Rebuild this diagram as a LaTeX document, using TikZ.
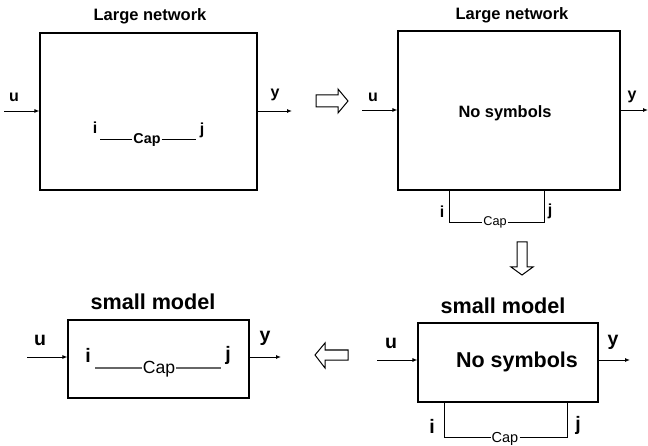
\documentclass[tikz,border=0pt]{standalone}
\usepackage{fontspec}
\setmainfont{Liberation Sans}
\usetikzlibrary{arrows.meta}
\begin{document}
\begin{tikzpicture}[x=1pt,y=-1pt,
  blk/.style={draw,line width=1.2pt,inner sep=0pt},
  lbl/.style={inner sep=0pt,font=\bfseries\fontsize{#1}{#1}\selectfont},
  caplbl/.style={inner sep=1pt,anchor=base,font=\fontsize{#1}{#1}\selectfont},
  sig/.style={line width=0.9pt,-{Latex[length=5pt,width=4pt]}},
  wire/.style={line width=0.8pt},
  gwire/.style={line width=1.8pt,draw=black!60},
  hollow/.style={draw,line width=1pt,fill=white,line join=miter}
]
\useasboundingbox (0,0) rectangle (648,446);

% ---------- Box 1: Large network (top left)
\node[blk,minimum width=217pt,minimum height=157pt] (b1) at (148.5,111.5) {};
\node[lbl=16.5] (t1) at (150,16) {Large network};
\coordinate (u1s) at (4,111);
\draw[sig] (u1s) -- (u1s -| b1.west);
\node[lbl=16] (u1) at (14,97) {u};
\coordinate (y1s) at (b1.east |- 0,111);
\coordinate (y1e) at (292,111);
\draw[sig] (y1s) -- (y1e);
\node[lbl=16] (y1) at (275,95) {y};
\node[lbl=16] (i1) at (95,128) {i};
\node[lbl=16] (j1) at (202,130) {j};
\node[caplbl=14.3,font=\bfseries\fontsize{14.3}{14.3}\selectfont] (c1) at (147,143.5) {Cap};
\coordinate (c1a) at (100,139);
\coordinate (c1b) at (196,139);
\draw[wire] (c1a) -- (c1a -| c1.west);
\draw[wire] (c1a -| c1.east) -- (c1b);

% ---------- hollow arrow right
\draw[hollow] (316,95) -- (338,95) -- (338,89) -- (348,101) -- (338,113) -- (338,107) -- (316,107) -- cycle;

% ---------- Box 2: Large network (top right)
\node[blk,minimum width=222pt,minimum height=159pt] (b2) at (509,110.5) {};
\node[lbl=16.5] (t2) at (512,15) {Large network};
\node[lbl=16.4] (n2) at (505,113) {No symbols};
\coordinate (u2s) at (362,110);
\draw[sig] (u2s) -- (u2s -| b2.west);
\node[lbl=16] (u2) at (373,97) {u};
\coordinate (y2s) at (b2.east |- 0,110);
\coordinate (y2e) at (648,110);
\draw[sig] (y2s) -- (y2e);
\node[lbl=16] (y2) at (632,97) {y};
\coordinate (p2a) at (449,190);
\coordinate (p2b) at (544,190);
\coordinate (q2a) at (449,222);
\coordinate (q2b) at (544,222);
\node[caplbl=12.7] (c2) at (495,226) {Cap};
\draw[wire] (p2a) -- (q2a) -- (q2a -| c2.west);
\draw[wire] (q2a -| c2.east) -- (q2b) -- (p2b);
\node[lbl=16] (i2) at (442,212) {i};
\node[lbl=16] (j2) at (550,211) {j};

% ---------- hollow arrow down
\draw[hollow] (517,242) -- (527,242) -- (527,267) -- (533,267) -- (522,275) -- (511,267) -- (517,267) -- cycle;

% ---------- Box 4: small model (bottom right)
\node[blk,minimum width=180pt,minimum height=79pt] (b4) at (508,362.5) {};
\node[lbl=21.6] (t4) at (503,306) {small model};
\node[lbl=21.5] (n4) at (517,362) {No symbols};
\coordinate (u4s) at (377,360);
\draw[sig] (u4s) -- (u4s -| b4.west);
\node[lbl=19.5] (u4) at (391,343) {u};
\coordinate (y4s) at (b4.east |- 0,360);
\coordinate (y4e) at (630,360);
\draw[sig] (y4s) -- (y4e);
\node[lbl=19.5] (y4) at (613,342) {y};
\coordinate (p4a) at (444,402);
\coordinate (p4b) at (567,402);
\coordinate (q4a) at (444,437);
\coordinate (q4b) at (567,437);
\node[caplbl=14.5] (c4) at (505,442) {Cap};
\draw[wire] (p4a) -- (q4a) -- (q4a -| c4.west);
\draw[wire] (q4a -| c4.east) -- (q4b) -- (p4b);
\node[lbl=19.5] (i4) at (432,426) {i};
\node[lbl=19.5] (j4) at (578,425) {j};

% ---------- hollow arrow left
\draw[hollow] (348,350) -- (325,350) -- (325,343) -- (315,355) -- (325,368) -- (325,360) -- (348,360) -- cycle;

% ---------- Box 3: small model (bottom left)
\node[blk,minimum width=181pt,minimum height=78pt] (b3) at (158.5,359) {};
\node[lbl=21.6] (t3) at (153,302) {small model};
\coordinate (u3s) at (27,357);
\draw[sig] (u3s) -- (u3s -| b3.west);
\node[lbl=19.5] (u3) at (40,340) {u};
\coordinate (y3s) at (b3.east |- 0,357);
\coordinate (y3e) at (281,357);
\draw[sig] (y3s) -- (y3e);
\node[lbl=19.5] (y3) at (265,338) {y};
\node[lbl=19.5] (i3) at (88,355) {i};
\node[lbl=19.5] (j3) at (228,355) {j};
\node[caplbl=17.6] (c3) at (159,373.5) {Cap};
\coordinate (c3a) at (95,368);
\coordinate (c3b) at (221,368);
\draw[gwire] (c3a) -- (c3a -| c3.west);
\draw[gwire] (c3a -| c3.east) -- (c3b);
\end{tikzpicture}
\end{document}
